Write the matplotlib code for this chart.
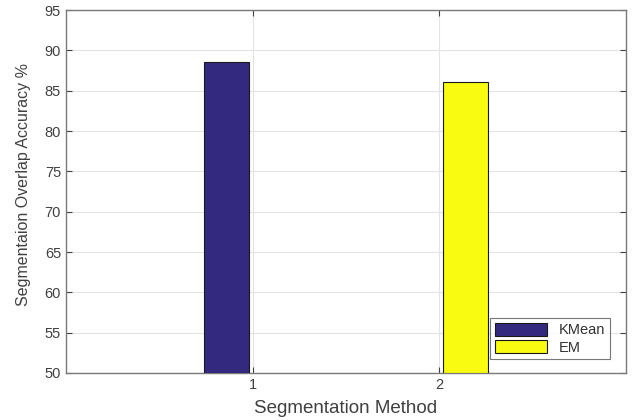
import matplotlib
matplotlib.use('Agg')
import matplotlib.pyplot as plt

# ============ 数据 ============
methods = ['KMean', 'EM']
positions = [1, 2]
accuracy = [88.5, 86.1]
colors = ['#33297f', '#f9fb10']
offsets = [-0.14, 0.14]
y_ticks = [50, 55, 60, 65, 70, 75, 80, 85, 90, 95]

plt.rcParams['font.family'] = ['Liberation Sans', 'DejaVu Sans']

fig = plt.figure(figsize=(6.32, 4.2), dpi=100)
ax = fig.add_axes([0.1044, 0.112, 0.886, 0.864])

for name, pos, val, col, off in zip(methods, positions, accuracy, colors, offsets):
    ax.bar(pos + off, val - 50, bottom=50, width=0.24, color=col,
           edgecolor='#1a1a1a', linewidth=0.8, label=name, zorder=3)

ax.set_xlim(0, 3)
ax.set_ylim(50, 95)
ax.set_xticks(positions)
ax.set_yticks(y_ticks)

ax.grid(True, color='#e3e3e3', linewidth=0.8, zorder=0)
ax.tick_params(direction='in', top=True, right=True, length=4,
               colors='#404040', labelsize=10.5, width=0.8)
for s in ax.spines.values():
    s.set_color('#7a7a7a')
    s.set_linewidth(1.0)

ax.set_xlabel('Segmentation Method', fontsize=13.5, color='#404040', labelpad=6)
ax.set_ylabel('Segmentaion Overlap Accuracy %', fontsize=11.5, color='#404040')
ax.yaxis.set_label_coords(-0.0625, 0.52)

leg = ax.legend(loc='lower right', bbox_to_anchor=(0.971, 0.0386), fontsize=10.5,
                frameon=True, fancybox=False, edgecolor='#555555', borderpad=0.3,
                handlelength=3.6, handleheight=1.0, labelspacing=0.2,
                borderaxespad=0)
leg.get_frame().set_linewidth(0.8)
for t in leg.get_texts():
    t.set_color('#333333')

plt.savefig('out.png', dpi=100)
plt.close()
